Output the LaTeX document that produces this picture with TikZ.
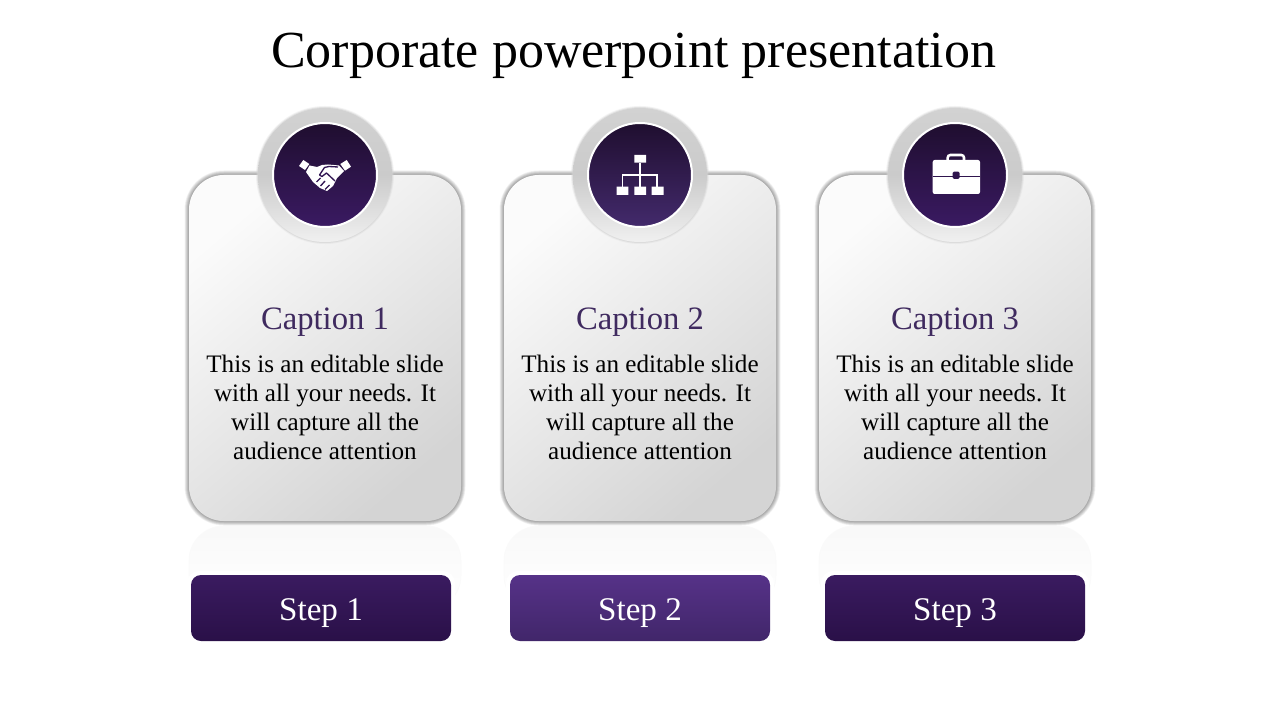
\documentclass[tikz,border=0pt]{standalone}
\usepackage{fontspec}
\setmainfont{Liberation Serif}
\definecolor{capcol}{HTML}{3F2A5F}
\definecolor{cardstart}{HTML}{FBFBFB}
\definecolor{cardend}{HTML}{D4D4D4}
\definecolor{ringtop}{HTML}{D2D2D2}
\definecolor{ringmid}{HTML}{CBCBCB}
\definecolor{ringlow}{HTML}{DEDEDE}
\definecolor{ringbot}{HTML}{F0F0F0}
\definecolor{darkA}{HTML}{1F0E2F}
\definecolor{darkB}{HTML}{3A1A62}
\definecolor{midB}{HTML}{432A6C}
\definecolor{stepAt}{HTML}{3A1B60}
\definecolor{stepAb}{HTML}{2A1048}
\definecolor{stepBt}{HTML}{563288}
\definecolor{stepBb}{HTML}{41266A}
\pgfdeclareverticalshading{ringshade}{100bp}{color(0bp)=(ringbot); color(25bp)=(ringbot); color(37bp)=(ringlow); color(50bp)=(ringmid); color(75bp)=(ringtop); color(100bp)=(ringtop)}
\tikzset{
 x=0.75pt,y=-0.75pt,
 cardbody/.style={rounded corners=26pt,top color=cardstart,bottom color=cardend,shading angle=40},
 cardglow/.style={rounded corners=26pt,draw=black,draw opacity=0.045},
 reflect/.style={rounded corners=26pt,top color=black!2.5,bottom color=white,draw=black!2},
 stepbox/.style={rounded corners=7.5pt,minimum width=195pt,minimum height=49.5pt,inner sep=0pt,text=white,text height=18.5pt,text depth=0pt,font=\fontsize{24.8}{28}\selectfont},
 titletext/.style={font=\fontsize{39}{42}\selectfont,text=black,anchor=base},
 captext/.style={font=\fontsize{24.5}{28}\selectfont,text=capcol,anchor=base},
 bodytext/.style={font=\fontsize{18.85}{21.75}\selectfont,align=center,text=black},
}
\newcommand{\cardat}[2]{% x offset, bottom colour of disc
 \begin{scope}[shift={(#1,0)}]
  \shade[reflect] (189,526) -- (189,610) -- (461,610) -- (461,526) -- cycle;
  \foreach \w in {1,2,...,9}{\draw[cardglow,line width=\w*0.75pt] (189,175) rectangle (461,521);}
  \shade[cardbody] (189,175) rectangle (461,521);
  \foreach \r/\o in {69/0.25,68/0.55}{\fill[ringtop,opacity=\o] (325,175) circle[radius=\r];}
  \shade[shading=ringshade] (325,175) circle[radius=67];
  \shade[top color=darkA,bottom color=#2,draw=white,line width=1.5pt] (325,175) circle[radius=52];
 \end{scope}}
\begin{document}
\begin{tikzpicture}
\useasboundingbox (0,0) rectangle (1280,720);
\fill[white] (0,0) rectangle (1280,720);
\node[titletext] (title) at (633.5,68) {Corporate powerpoint presentation};
\cardat{0}{darkB}
\cardat{315}{midB}
\cardat{630}{darkB}
% handshake
\begin{scope}[white]
 \fill (299,166)--(303.3,160)--(309.3,164)--(305,170)--cycle;
 \fill (340.3,164)--(346.7,160)--(351,166.7)--(345,170.7)--cycle;
 \fill[line join=round] (309.5,165.5)--(317,167)--(322,165)--(328,164.5)--(339,165.5)--(344,171)--(337,178)--(333,186)--(327,191)--(320,188)--(313,182)--(306,172)--cycle;
 \draw[darkB!70!darkA,line width=1pt,line join=round] (319.5,175)--(324.5,167.5)--(329,166.5)--(338,167)
   (319.5,175)--(322,176.5)--(326.5,173)--(335,181)
   (316.5,182)--(320.5,178) (320.5,186)--(325,181) (325,189.5)--(329.5,185);
\end{scope}
% org chart
\begin{scope}[shift={(315,0)}]
 \fill[white] (319.3,155)rectangle(331,162.7) (301.7,186.7)rectangle(313.3,195) (319.3,186.7)rectangle(331,195) (336.7,186.7)rectangle(348.7,195);
 \draw[white,line width=1.2pt] (325,162.7)--(325,186.7) (307.3,186.7)--(307.3,175)--(342,175)--(342,186.7);
\end{scope}
% briefcase
\begin{scope}[shift={(630,0)}]
 \draw[white,line width=1.9pt,rounded corners=2pt] (317.7,161)--(317.7,155)--(334,155)--(334,161);
 \fill[white,rounded corners=1.5pt] (302.7,160)rectangle(350,194);
 \draw[darkB!60!darkA,line width=0.6pt] (302.7,176)--(350,176);
 \fill[darkB!60!darkA,rounded corners=1pt] (322.7,171.6)rectangle(329.5,179);
\end{scope}
\foreach \n/\x/\c in {c1/325/1,c2/640/2,c3/955/3}{
 \node[captext] (\n) at (\x,329) {Caption \c};
 \node[bodytext] (\n t) at (\x,407) {This is an editable slide\\with all your needs. It\\will capture all the\\audience attention};
}
\foreach \x in {321,640,955}{\fill[white,rounded corners=9pt] (\x-134,571) rectangle (\x+134,645);}
\node[stepbox,top color=stepAt,bottom color=stepAb] (s1) at (321,608) {Step 1};
\node[stepbox,top color=stepBt,bottom color=stepBb] (s2) at (640,608) {Step 2};
\node[stepbox,top color=stepAt,bottom color=stepAb] (s3) at (955,608) {Step 3};
\end{tikzpicture}
\end{document}
